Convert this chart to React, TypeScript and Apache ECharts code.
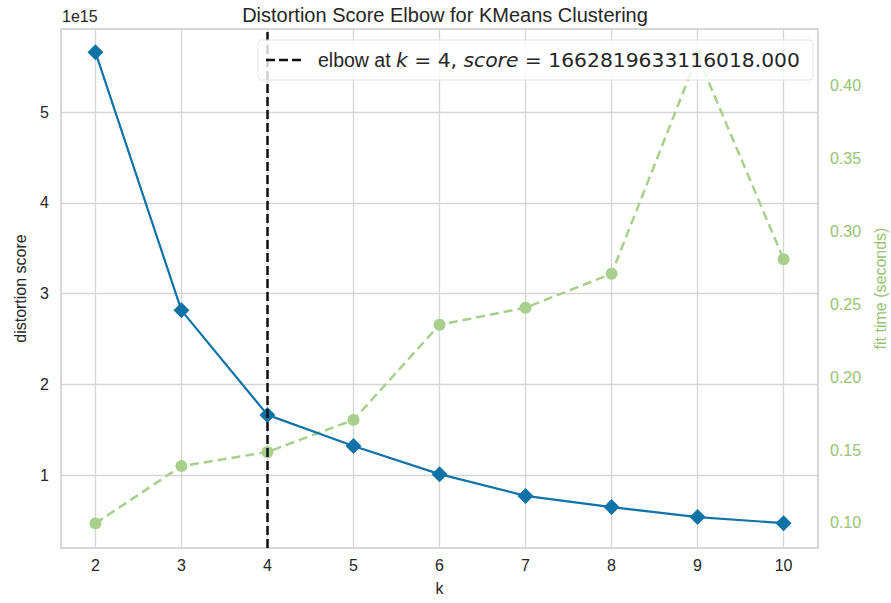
import React, { useEffect, useRef } from "react";
import * as echarts from "echarts";

const kValues = [2, 3, 4, 5, 6, 7, 8, 9, 10];
const distortion = [5.66e15, 2.815e15, 1662819633116018, 1.32e15, 1.01e15, 0.77e15, 0.647e15, 0.537e15, 0.47e15];
const fitTime = [0.0997, 0.139, 0.1487, 0.1707, 0.236, 0.2477, 0.271, 0.4206, 0.281];
const leftTicks = [1e15, 2e15, 3e15, 4e15, 5e15];
const rightTicks = [0.1, 0.15, 0.2, 0.25, 0.3, 0.35, 0.4];
const elbowK = 4;
const elbowScore = "1662819633116018.000";

const BLUE = "#0f73a8";
const GREEN = "#a8d08c";
const GREEN_TEXT = "#97c473";
const TEXT = "#262626";
const FONT = "'Liberation Sans', Arial, sans-serif";

export default function App() {
  const ref = useRef<HTMLDivElement>(null);
  useEffect(() => {
    document.body.style.margin = "0";
    const chart = echarts.init(ref.current!, null, { renderer: "svg" });
    const option: any = {
      animation: false,
      backgroundColor: "#ffffff",
      textStyle: { fontFamily: FONT },
      title: {
        text: "Distortion Score Elbow for KMeans Clustering",
        left: 440,
        textAlign: "center",
        top: 0,
        textStyle: { fontSize: 20, fontWeight: "normal", color: TEXT, fontFamily: FONT },
      },
      grid: {
        left: 61,
        right: 73,
        top: 29,
        bottom: 55,
        outerBoundsMode: "none",
        containLabel: false,
        show: true,
        borderColor: "#cccccc",
        borderWidth: 1.5,
        backgroundColor: "#ffffff",
      },
      xAxis: {
        type: "value",
        min: 1.6,
        max: 10.4,
        name: "k",
        nameLocation: "middle",
        nameGap: 32,
        nameTextStyle: { fontSize: 16, color: TEXT, fontFamily: FONT },
        axisLine: { show: false },
        axisTick: { show: false, customValues: kValues },
        axisLabel: { customValues: kValues, fontSize: 16, color: TEXT, margin: 9, fontFamily: FONT },
        splitLine: { show: true, lineStyle: { color: "#d6d6d6", width: 1.3 } },
      },
      yAxis: [
        {
          type: "value",
          min: 0.196e15,
          max: 5.915e15,
          name: "distortion score",
          nameLocation: "middle",
          nameGap: 33,
          nameTextStyle: { fontSize: 16, color: TEXT, fontFamily: FONT },
          axisLine: { show: false },
          axisTick: { show: false, customValues: leftTicks },
          axisLabel: {
            customValues: leftTicks,
            fontSize: 16,
            color: TEXT,
            margin: 12,
            fontFamily: FONT,
            formatter: (v: number) => String(Math.round(v / 1e15)),
          },
          splitLine: { show: true, lineStyle: { color: "#d6d6d6", width: 1.3 } },
        },
        {
          type: "value",
          position: "right",
          min: 0.0828,
          max: 0.439,
          name: "fit time (seconds)",
          nameLocation: "middle",
          nameGap: 46,
          nameRotate: 90,
          nameTextStyle: { fontSize: 16, color: GREEN_TEXT, fontFamily: FONT },
          axisLine: { show: false },
          axisTick: { show: false, customValues: rightTicks },
          axisLabel: {
            customValues: rightTicks,
            fontSize: 16,
            color: GREEN_TEXT,
            margin: 12,
            fontFamily: FONT,
            formatter: (v: number) => v.toFixed(2),
          },
          splitLine: { show: false },
        },
      ],
      series: [
        {
          type: "line",
          yAxisIndex: 1,
          data: kValues.map((k, i) => [k, fitTime[i]]),
          symbol: "circle",
          symbolSize: 12,
          lineStyle: { color: GREEN, width: 2.5, type: [9, 5] },
          itemStyle: { color: GREEN },
          z: 2,
        },
        {
          type: "line",
          yAxisIndex: 0,
          data: kValues.map((k, i) => [k, distortion[i]]),
          symbol: "diamond",
          symbolSize: 16,
          lineStyle: { color: BLUE, width: 2.2 },
          itemStyle: { color: BLUE },
          z: 3,
          markLine: {
            silent: true,
            symbol: "none",
            label: { show: false },
            lineStyle: { color: "#111111", width: 2.5, type: [9, 4] },
            data: [{ xAxis: elbowK }],
          },
        },
      ],
      graphic: [
        {
          type: "text",
          left: 62,
          top: 8,
          style: { text: "1e15", fontSize: 16, fill: TEXT, fontFamily: FONT },
        },
        {
          type: "rect",
          shape: { x: 258, y: 40, width: 555, height: 40, r: 4 },
          style: { fill: "rgba(255,255,255,0.8)", stroke: "#e3e3e3", lineWidth: 1 },
          z: 100,
        },
        {
          type: "line",
          shape: { x1: 266, y1: 60, x2: 304, y2: 60 },
          style: { stroke: "#111111", lineWidth: 2.5, lineDash: [9, 4] },
          z: 101,
        },
        {
          type: "text",
          x: 318,
          y: 60,
          z: 101,
          style: {
            text: "{n|elbow at }{m|k}{d| = " + elbowK + ", }{m|score}{d| = " + elbowScore + "}",
            verticalAlign: "middle",
            rich: {
              n: { fontSize: 19.5, fill: TEXT, fontFamily: FONT },
              m: { fontSize: 20.3, fill: TEXT, fontFamily: "'DejaVu Sans'", fontStyle: "italic" },
              d: { fontSize: 20.3, fill: TEXT, fontFamily: "'DejaVu Sans'" },
            },
          },
        },
      ],
    };
    chart.setOption(option);
    return () => chart.dispose();
  }, []);
  return <div ref={ref} style={{ width: 891, height: 603, position: "absolute", left: 0, top: 0 }} />;
}
